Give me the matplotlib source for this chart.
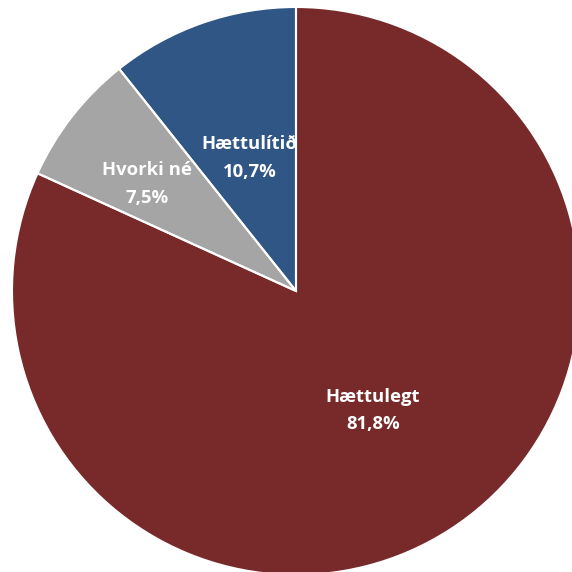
import numpy as np
import matplotlib
matplotlib.use('Agg')
import matplotlib.pyplot as plt

labels = ['Hættulegt', 'Hvorki né', 'Hættulítið']
values = [81.8, 7.5, 10.7]
colors = ['#772a29', '#a5a5a5', '#2f5685']

# label placement: distance from centre (fraction of radius), angle nudge (deg)
label_r = [0.50, 0.646, 0.495]
label_da = [0, 2.3, 0]

W = 572
cx, cy, R = 296, 291, 284

fig = plt.figure(figsize=(W / 100, W / 100), dpi=100)
ax = fig.add_axes([0, 0, 1, 1])
ax.axis('off')

wedges, _ = ax.pie(values, colors=colors, startangle=90, counterclock=False,
                   radius=1, wedgeprops=dict(linewidth=0))

for w, lab, v, r, da in zip(wedges, labels, values, label_r, label_da):
    ang = np.deg2rad((w.theta1 + w.theta2) / 2 + da)
    ax.text(r * np.cos(ang), r * np.sin(ang),
            '{}\n{}%'.format(lab, str(v).replace('.', ',')),
            ha='center', va='center', color='white', fontsize=13.3,
            fontweight='bold', family=['Open Sans', 'DejaVu Sans'],
            linespacing=1.7, zorder=3)

# white separators drawn over the labels
outline, _ = ax.pie(values, colors=['none'] * len(values), startangle=90,
                    counterclock=False, radius=1,
                    wedgeprops=dict(edgecolor='white', linewidth=1.5))
for o in outline:
    o.set_zorder(4)

ax.set_xlim(-cx / R, (W - cx) / R)
ax.set_ylim(-(W - cy) / R, cy / R)

fig.savefig('out.png', dpi=100)
